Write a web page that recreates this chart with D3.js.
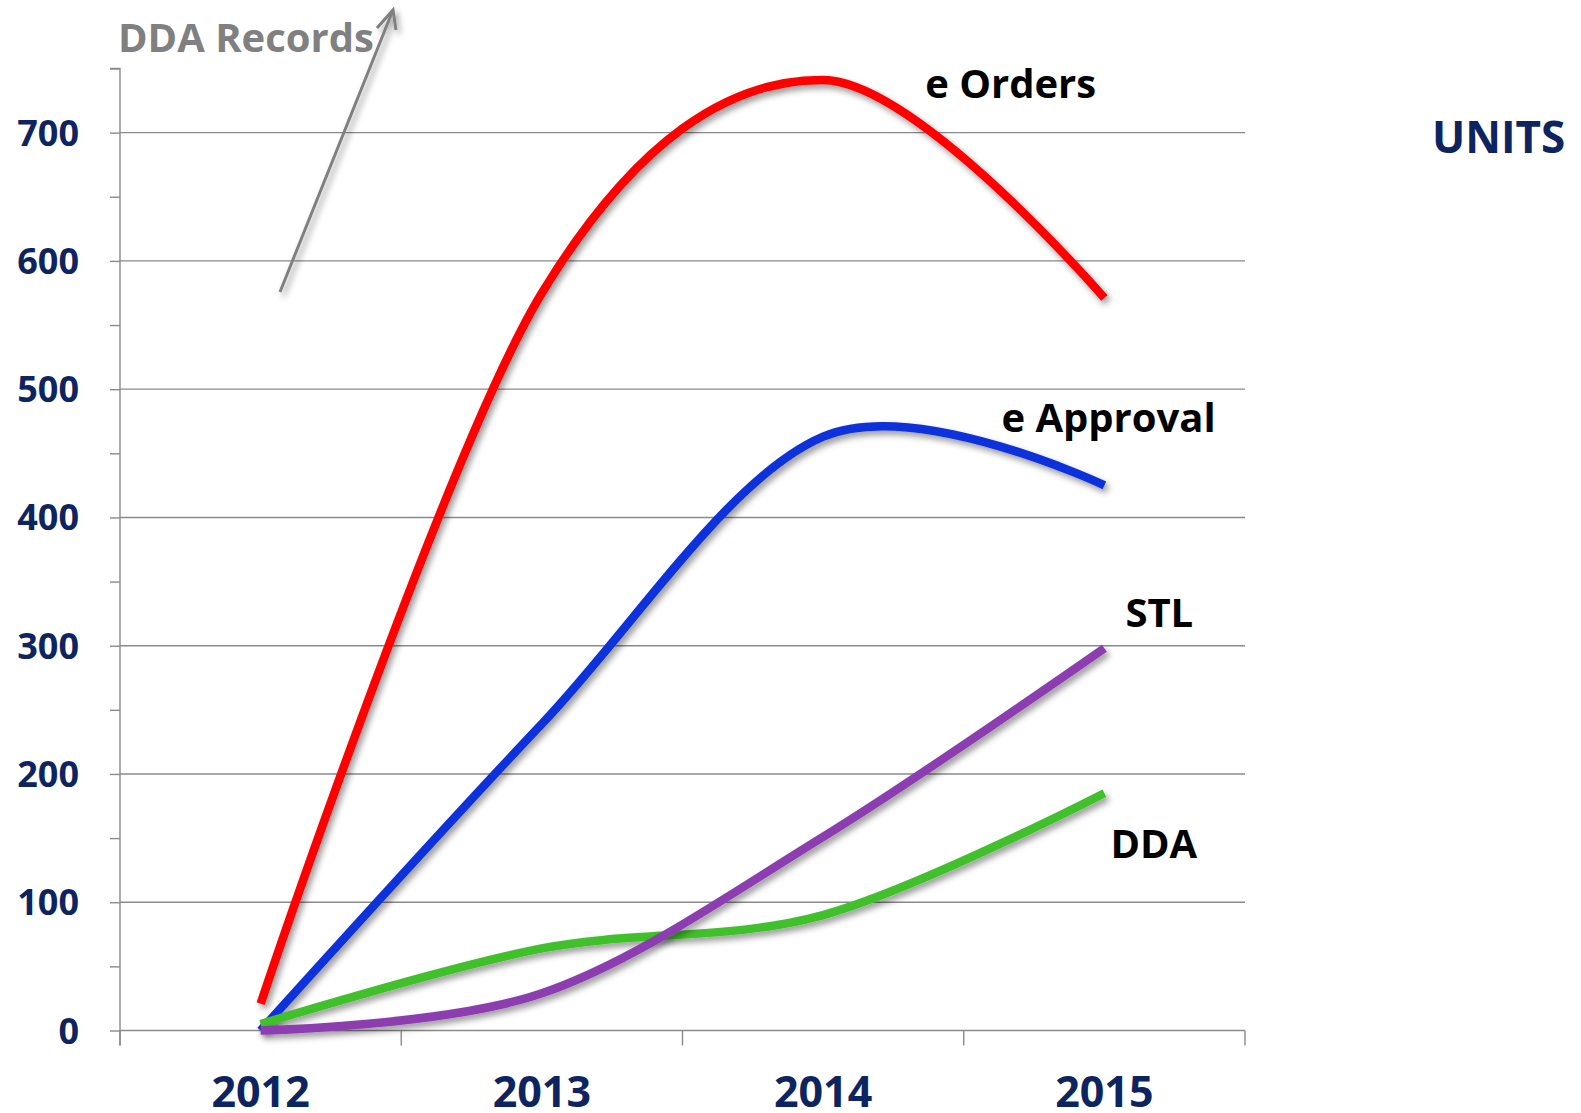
<!DOCTYPE html>
<html><head><meta charset="utf-8">
<script src="https://cdn.jsdelivr.net/npm/d3@7"></script>
<style>body{margin:0;background:#fff} svg{display:block}</style>
</head><body><svg id="c" width="1581" height="1113"></svg>
<script>
const years = ["2012", "2013", "2014", "2015"];
const eOrders = [21, 575, 741, 571];
const eApproval = [0, 239, 463, 425];
const stl = [0, 29, 151, 298];
const dda = [5, 64, 90, 185];
const seriesNames = ["e Orders", "e Approval", "STL", "DDA"];
const yTickValues = [0, 100, 200, 300, 400, 500, 600, 700];
const yMinorValues = [50, 150, 250, 350, 450, 550, 650, 750];
const unitsLabel = "UNITS";
const noteLabel = "DDA Records";

const svg = d3.select("#c");
const mLeft = 120, mRight = 1245, mTop = 68.5, mBottom = 1030.5;
const x = d3.scaleBand().domain(years).range([mLeft, mRight]).padding(0);
const xc = d => x(d) + x.bandwidth() / 2;
const y = d3.scaleLinear().domain([0, 750]).range([mBottom, mTop]);

const navy = "#0e2460", axisCol = "#8a8a8a";
const font = "'Open Sans', 'Noto Sans', sans-serif";

const defs = svg.append("defs");
const f = defs.append("filter").attr("id", "sh").attr("x", "-20%").attr("y", "-20%").attr("width", "140%").attr("height", "140%");
f.append("feDropShadow").attr("dx", 3).attr("dy", 4).attr("stdDeviation", 3)
  .attr("flood-color", "#000").attr("flood-opacity", 0.4);

// gridlines
svg.append("g").selectAll("line").data(yTickValues.filter(v => v > 0)).join("line")
  .attr("x1", mLeft).attr("x2", mRight).attr("y1", d => y(d)).attr("y2", d => y(d))
  .attr("stroke", axisCol).attr("stroke-width", 1.4);

// y axis
const yAxis = svg.append("g").attr("transform", `translate(${mLeft},0)`)
  .call(d3.axisLeft(y).tickValues(yTickValues.concat(yMinorValues)).tickSize(10).tickFormat(""));
yAxis.select(".domain").attr("stroke", axisCol).attr("stroke-width", 1.4).attr("d", `M-10,${y(750)}H0V${mBottom + 15}`);
yAxis.selectAll(".tick line").attr("stroke", axisCol).attr("stroke-width", 1.4);

svg.append("g").selectAll("text").data(yTickValues).join("text")
  .attr("x", 79).attr("y", d => y(d) + 13).attr("text-anchor", "end")
  .attr("font-family", font).attr("font-weight", 700).attr("font-size", 36)
  .attr("fill", navy).text(d => d);

// x axis
const xAxis = svg.append("g").attr("transform", `translate(0,${mBottom})`)
  .call(d3.axisBottom(x).tickSize(0).tickFormat(""));
xAxis.select(".domain").attr("stroke", axisCol).attr("stroke-width", 1.4).attr("d", `M${mLeft},0H${mRight}`);
svg.append("g").selectAll("line").data(years.map(d => x(d)).concat([mRight])).join("line")
  .attr("x1", d => d).attr("x2", d => d).attr("y1", mBottom).attr("y2", mBottom + 15)
  .attr("stroke", axisCol).attr("stroke-width", 1.4);

svg.append("g").selectAll("text").data(years).join("text")
  .attr("x", d => xc(d)).attr("y", 1107).attr("text-anchor", "middle")
  .attr("font-family", font).attr("font-weight", 700).attr("font-size", 43)
  .attr("fill", navy).text(d => d);

// lines
const series = [
  {name: seriesNames[0], values: eOrders, color: "#ff0000", lx: ["2014", 102], ly: 727},
  {name: seriesNames[1], values: eApproval, color: "#1030dc", lx: ["2015", -103], ly: 466.5},
  {name: seriesNames[3], values: dda, color: "#40c02a", lx: ["2015", 6], ly: 134.5},
  {name: seriesNames[2], values: stl, color: "#8c3cb0", lx: ["2015", 21], ly: 314.5}
];
const line = d3.line().x((d, i) => xc(years[i])).y(d => y(d)).curve(d3.curveCardinal.tension(0));
svg.append("g").selectAll("path").data(series).join("path")
  .attr("d", s => line(s.values)).attr("fill", "none")
  .attr("stroke", s => s.color).attr("stroke-width", 8.5).attr("stroke-linecap", "butt")
  .attr("filter", "url(#sh)");

svg.append("g").selectAll("text").data(series).join("text")
  .attr("x", s => xc(s.lx[0]) + s.lx[1]).attr("y", s => y(s.ly))
  .attr("font-family", font).attr("font-weight", 700).attr("font-size", 40)
  .attr("fill", "#000").text(s => s.name);

// units
svg.append("text").attr("x", 1432).attr("y", 153)
  .attr("font-family", font).attr("font-weight", 700).attr("font-size", 44)
  .attr("fill", navy).text(unitsLabel);

// DDA Records note with arrow
svg.append("text").attr("x", 118).attr("y", 52)
  .attr("font-family", font).attr("font-weight", 700).attr("font-size", 40)
  .attr("fill", "#808080").text(noteLabel);
const ar = svg.append("g").attr("filter", "url(#sh)").attr("stroke", "#808080").attr("stroke-width", 3).attr("fill", "none");
ar.append("line").attr("x1", 280).attr("y1", 292).attr("x2", 393).attr("y2", 10);
ar.append("path").attr("d", "M377,28L393,10L396,30");
</script></body></html>
